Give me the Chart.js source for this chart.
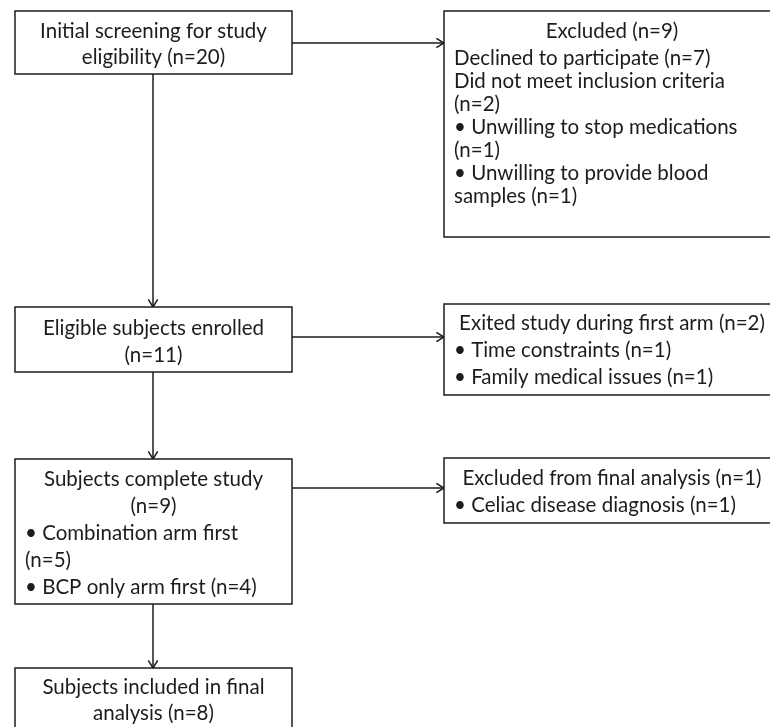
<!DOCTYPE html>
<html>
<head>
<meta charset="utf-8">
<title>Study flow</title>
<script src="https://cdn.jsdelivr.net/npm/chart.js@4.4.1/dist/chart.umd.min.js"></script>
<style>
    html, body { margin: 0; padding: 0; background: #fff; }
    #wrap { width: 770px; height: 727px; }
</style>
</head>
<body>
<div id="wrap"><canvas id="flowChart" width="770" height="727"></canvas></div>
<script>
// Box texts (one entry per printed line)
const screeningLines = ["Initial screening for study", "eligibility (n=20)"];
const excludedLines = [
    "Excluded (n=9)",
    "Declined to participate (n=7)",
    "Did not meet inclusion criteria",
    "(n=2)",
    "\u2022 Unwilling to stop medications",
    "(n=1)",
    "\u2022 Unwilling to provide blood",
    "samples (n=1)"
];
const enrolledLines = ["Eligible subjects enrolled", "(n=11)"];
const exitedLines = ["Exited study during first arm (n=2)", "\u2022 Time constraints (n=1)", "\u2022 Family medical issues (n=1)"];
const completeLines = ["Subjects complete study", "(n=9)", "\u2022 Combination arm first", "(n=5)", "\u2022 BCP only arm first (n=4)"];
const finalExcludedLines = ["Excluded from final analysis (n=1)", "\u2022 Celiac disease diagnosis (n=1)"];
const includedLines = ["Subjects included in final", "analysis (n=8)"];

// Layout in chart units (x: 0-770, y: 0-727 top down)
const boxes = [
    { lines: screeningLines, x0: 15, y0: 11, x1: 292, y1: 74, firstY: 31, step: 26, align: "cc", left: 25 },
    { lines: excludedLines, x0: 444, y0: 11, x1: 780, y1: 237, ys: [31, 58, 81, 104, 127, 150, 173, 196], align: "clllllll", left: 454 },
    { lines: enrolledLines, x0: 15, y0: 307, x1: 292, y1: 372, firstY: 328, step: 27, align: "cc", left: 25 },
    { lines: exitedLines, x0: 444, y0: 304, x1: 780, y1: 395, firstY: 323, step: 27, align: "cll", left: 454 },
    { lines: completeLines, x0: 15, y0: 459, x1: 292, y1: 604, firstY: 479, step: 27, align: "cclll", left: 25 },
    { lines: finalExcludedLines, x0: 444, y0: 458, x1: 780, y1: 523, firstY: 478, step: 27, align: "cl", left: 454 },
    { lines: includedLines, x0: 15, y0: 668, x1: 292, y1: 740, firstY: 687, step: 26, align: "cc", left: 25 }
];

const arrows = [
    { from: [153, 74], to: [153, 307] },
    { from: [153, 372], to: [153, 459] },
    { from: [153, 604], to: [153, 668] },
    { from: [292, 43], to: [444, 43] },
    { from: [292, 337], to: [444, 337] },
    { from: [292, 488], to: [444, 488] }
];

const INK = "#1c1c1c";
const FONT = "20.5px Lato, 'Open Sans', sans-serif";

const flowPlugin = {
    id: "flow",
    afterDraw(chart) {
        const ctx = chart.ctx;
        const sx = chart.scales.x;
        const sy = chart.scales.y;
        const px = v => sx.getPixelForValue(v);
        const py = v => sy.getPixelForValue(v);

        ctx.save();
        ctx.strokeStyle = INK;
        ctx.lineWidth = 1.5;

        // connectors
        arrows.forEach(a => {
            const x0 = px(a.from[0]), y0 = py(a.from[1]);
            const x1 = px(a.to[0]), y1 = py(a.to[1]);
            ctx.beginPath();
            ctx.moveTo(x0, y0);
            ctx.lineTo(x1, y1);
            ctx.stroke();
            const ang = Math.atan2(y1 - y0, x1 - x0);
            const len = 9, spread = 0.55;
            ctx.beginPath();
            ctx.moveTo(x1 - len * Math.cos(ang - spread), y1 - len * Math.sin(ang - spread));
            ctx.lineTo(x1, y1);
            ctx.lineTo(x1 - len * Math.cos(ang + spread), y1 - len * Math.sin(ang + spread));
            ctx.stroke();
        });

        // boxes and text
        ctx.font = FONT;
        ctx.textBaseline = "middle";
        boxes.forEach(b => {
            const x0 = px(b.x0), y0 = py(b.y0), x1 = px(b.x1), y1 = py(b.y1);
            ctx.fillStyle = "#fff";
            ctx.fillRect(x0, y0, x1 - x0, y1 - y0);
            ctx.strokeRect(x0, y0, x1 - x0, y1 - y0);
            ctx.fillStyle = INK;
            b.lines.forEach((t, i) => {
                const y = py(b.ys ? b.ys[i] : b.firstY + i * b.step);
                if (b.align[i] === "l") {
                    ctx.textAlign = "left";
                    ctx.fillText(t, px(b.left), y);
                } else {
                    ctx.textAlign = "center";
                    ctx.fillText(t, (x0 + x1) / 2, y);
                }
            });
        });
        ctx.restore();
    }
};

document.addEventListener("DOMContentLoaded", () => {
    const ctxFlow = document.getElementById("flowChart").getContext("2d");
    new Chart(ctxFlow, {
        type: "scatter",
        data: { datasets: [{ data: [] }] },
        options: {
            responsive: false,
            animation: false,
            layout: { padding: 0 },
            plugins: { legend: { display: false }, tooltip: { enabled: false } },
            scales: {
                x: { type: "linear", min: 0, max: 770, display: false },
                y: { type: "linear", min: 0, max: 727, reverse: true, display: false }
            }
        },
        plugins: [flowPlugin]
    });
});
</script>
</body>
</html>
